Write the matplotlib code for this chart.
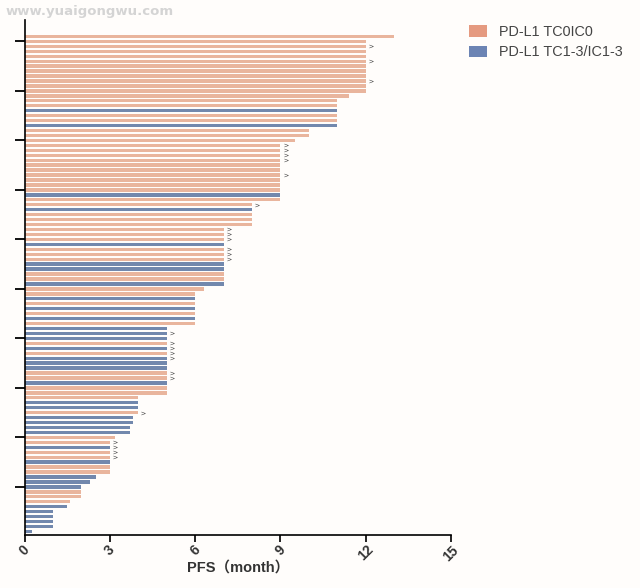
import matplotlib
matplotlib.use("Agg")
import matplotlib.pyplot as plt
from matplotlib.patches import Patch

# one entry per patient, shortest PFS first
pfs_months = [
    0.25, 1, 1, 1, 1, 1.5, 1.6, 2, 2, 2,
    2.3, 2.5, 3, 3, 3, 3, 3, 3, 3, 3.2,
    3.7, 3.7, 3.8, 3.8, 4, 4, 4, 4, 5, 5,
    5, 5, 5, 5, 5, 5, 5, 5, 5, 5,
    5, 5, 6, 6, 6, 6, 6, 6, 6, 6.3,
    7, 7, 7, 7, 7, 7, 7, 7, 7, 7,
    7, 7, 8, 8, 8, 8, 8, 9, 9, 9,
    9, 9, 9, 9, 9, 9, 9, 9, 9, 9.5,
    10, 10, 11, 11, 11, 11, 11, 11, 11.4, 12,
    12, 12, 12, 12, 12, 12, 12, 12, 12, 12,
    13,
]
# 0 = TC0IC0, 1 = TC1-3/IC1-3
group = [
    1, 1, 1, 1, 1, 1, 0, 0, 0, 1,
    1, 1, 0, 0, 1, 0, 0, 1, 0, 0,
    1, 1, 1, 1, 0, 1, 1, 0, 0, 0,
    1, 0, 0, 1, 1, 1, 0, 1, 0, 1,
    1, 1, 0, 1, 0, 1, 0, 1, 0, 0,
    1, 0, 0, 1, 1, 0, 0, 0, 1, 0,
    0, 0, 0, 0, 0, 1, 0, 0, 1, 0,
    0, 0, 0, 0, 0, 0, 0, 0, 0, 0,
    0, 0, 1, 0, 0, 1, 0, 0, 0, 0,
    0, 0, 0, 0, 0, 0, 0, 0, 0, 0,
    0,
]
# patients still on follow-up (small mark after the bar)
censored = [16, 17, 18, 19, 25, 32, 33, 36, 37, 38, 39, 41,
            56, 57, 58, 60, 61, 62, 67, 73, 76, 77, 78, 79, 92, 96, 99]
group_names = ["PD-L1 TC0IC0", "PD-L1 TC1-3/IC1-3"]
xticks = [0, 3, 6, 9, 12, 15]
yticks = [10, 20, 30, 40, 50, 60, 70, 80, 90, 100]

colors = ["#e9b59d", "#7288ad"]
legend_colors = ["#e59a80", "#6c84b4"]
W, H = 640, 588
bg = "#fffdfb"
row_px = 4.95
row0_px = 536.4  # pixel height of row 0
bottom_px, top_px = 534.5, 20

plt.rcParams["font.family"] = ["Liberation Sans", "Noto Sans CJK SC", "DejaVu Sans"]

fig = plt.figure(figsize=(W / 100, H / 100), dpi=100, facecolor=bg)
ax = fig.add_axes([24.5 / W, 1 - bottom_px / H, (451 - 24.5) / W, (bottom_px - top_px) / H])
ax.set_facecolor("none")

rows = list(range(1, len(pfs_months) + 1))
ax.barh(rows, pfs_months, height=0.68, color=[colors[g] for g in group], linewidth=0)

ax.plot([pfs_months[r - 1] + 0.18 for r in censored], censored, linestyle="none",
        marker="$>$", markersize=3, color="#444444", markeredgewidth=0)

ax.set_xlim(0, 15)
ax.set_ylim((row0_px - bottom_px) / row_px, (row0_px - top_px) / row_px)
ax.set_xticks(xticks)
ax.set_xticklabels(xticks, rotation=45, fontsize=10, fontweight="bold", color="#333333")
ax.set_yticks(yticks)
ax.set_yticklabels([])
ax.tick_params(axis="x", length=5, width=1.4, pad=1, color="#222222")
ax.tick_params(axis="y", length=7, width=1.4, color="#111111")
ax.spines["top"].set_visible(False)
ax.spines["right"].set_visible(False)
ax.spines["left"].set_linewidth(1.2)
ax.spines["bottom"].set_linewidth(1.2)
ax.set_xlabel("PFS（month）", fontsize=10.5, fontweight="bold", color="#333333", labelpad=-2)

handles = [Patch(facecolor=c, edgecolor="none") for c in legend_colors]
fig.legend(handles, group_names, loc="upper left", bbox_to_anchor=(469 / W, 1 - 25 / H),
           frameon=False, fontsize=10.4, labelcolor="#444444", handlelength=1.25,
           handleheight=0.8, handletextpad=0.85, labelspacing=0.45, borderaxespad=0,
           borderpad=0)

fig.text(6 / W, 1 - 11 / H, "www.yuaigongwu.com", fontsize=9.5, fontweight="bold",
         family="DejaVu Sans", color="#d4d4d4", va="center")

fig.savefig("out.png", dpi=100, facecolor=bg)
